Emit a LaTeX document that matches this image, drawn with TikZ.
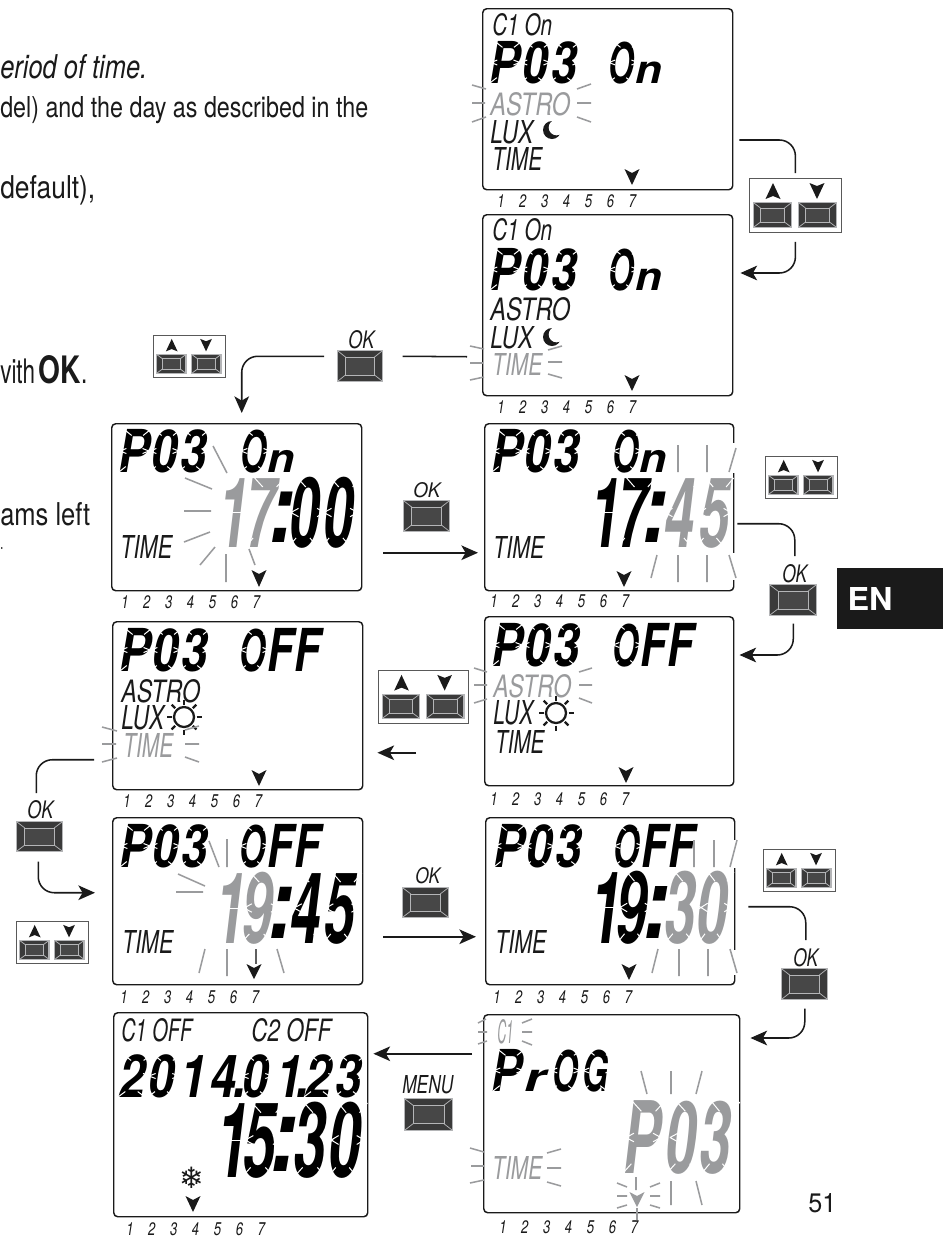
\documentclass[tikz,border=0pt]{standalone}
\usepackage{fontspec}
\usepackage{graphicx}
\usetikzlibrary{calc,arrows.meta}
\setmainfont{TeX Gyre Heros}
\newfontfamily\flakefont{DejaVu Sans}
\definecolor{lcdgrey}{HTML}{9A9B9D}
\definecolor{ink}{HTML}{1A1A1A}
\definecolor{btndark}{HTML}{3A3A3A}
\definecolor{btnmid}{HTML}{474747}
\definecolor{btnedge}{HTML}{B4B5B7}
\tikzset{
  dispbox/.style={draw=ink,line width=1.1pt,rounded corners=3pt,inner sep=0pt,anchor=north west},
  ray/.style={draw=lcdgrey,line width=1.15pt},
  conn/.style={draw=ink,line width=1.15pt},
  connarrow/.style={conn,-{Stealth[length=12.5pt,width=11pt,inset=3.2pt]}},
  cutline/.style={draw=white,line width=.75pt},
  tri/.style={fill=ink},
  kpbox/.style={draw=black!65,line width=.6pt,fill=white,inner sep=0pt,anchor=north west},
  btnbox/.style={fill=btnedge,inner sep=0pt,anchor=north west},
  lbl/.style={inner sep=0pt,anchor=north west},
  lcdword/.style={inner sep=0pt,anchor=base west},
  copytext/.style={inner sep=0pt,anchor=base west,text=ink}
}
\newlength\cu
\newcommand\rs[3]{\pgfmathsetlengthmacro\rsw{(#1)*0.75pt}\pgfmathsetlengthmacro\rsh{(#2)*0.75pt}\resizebox{\rsw}{\rsh}{#3}}
\newcommand\disp[5]{\node[dispbox,minimum width={(#4-#2)*0.75pt},minimum height={(#5-#3)*0.75pt}] (#1) at (#2,#3) {};}
\newcommand\smalllbl[7][ink]{\node[lbl,text=#1] (#2) at (#3,#4) {\rs{#5-#3}{#6-#4}{\itshape #7}};}
\newcommand\weekrow[3]{%
  \foreach \d in {1,...,7}{\pgfmathsetmacro\wx{#2+21.9*(\d-1)-4}\node[lbl,text=ink] (#1\d) at (\wx,#3) {\resizebox{!}{9.6pt}{\scalebox{.72}[1]{\itshape \d}}};}}
\newcommand\biglcd[6]{%
  \pgfmathsetmacro\fsz{#4*0.75/0.71}%
  \pgfmathsetlengthmacro\tmpcu{0.75pt/#5}%
  \node[lcdword] (#1) at (#2,#3) {\setlength\cu{\tmpcu}\scalebox{#5}[1]{\fontsize{\fsz pt}{\fsz pt}\selectfont\bfseries\itshape #6}};}
\newcommand\lc[2]{\makebox[#1\cu][c]{#2}}
\newcommand\lcr[2]{\makebox[#1\cu][r]{#2}}
\newcommand\Oo{\scalebox{.72}[.97]{O}}
\newcommand\nn{\scalebox{.95}[.68]{n}}
\newcommand\rr{\scalebox{1.2}[.68]{r}}
\newcommand\Gg{\scalebox{.72}[.97]{G}}
\newcommand\Ff{\scalebox{.9}[1]{F}}
\newcommand\colonch{\raisebox{.05em}{\scalebox{1.45}[1]{:}}}
\newcommand\lcdgaps[4]{%
  \pgfmathsetmacro\gsl{0.14*#4}\pgfmathsetmacro\gth{0.13*#4}\pgfmathsetmacro\gtw{0.27*#3}%
  \draw[cutline]
    (#1+\gsl,#2) -- ++(\gtw,\gth)
    (#1+\gsl+#3,#2) -- ++(-\gtw,\gth)
    (#1,#2+#4) -- ++(\gtw,-\gth)
    (#1+#3,#2+#4) -- ++(-\gtw,-\gth)
    (#1+\gsl*.5-2,#2+#4*.5) -- ++(\gtw*.95,-.06*#4)
    (#1+\gsl*.5-2,#2+#4*.5) -- ++(\gtw*.95,.06*#4)
    (#1+\gsl*.5+#3+2,#2+#4*.5) -- ++(-\gtw*.95,-.06*#4)
    (#1+\gsl*.5+#3+2,#2+#4*.5) -- ++(-\gtw*.95,.06*#4);}
\newcommand\lcdmid[4]{\draw[cutline] (#1,#2+#4*.5) -- ++(#3,0);}
\newcommand\btn[5]{%
  \node[btnbox,minimum width={(#4)*0.75pt},minimum height={(#5)*0.75pt}] (#1) at (#2,#3) {};
  \pgfmathsetmacro\bx{#2+1.2}\pgfmathsetmacro\by{#3+1.2}\pgfmathsetmacro\bw{#4-2.4}\pgfmathsetmacro\bh{#5-2.4}%
  \fill[btndark] (\bx,\by) rectangle ++(\bw,\bh);
  \draw[btnedge,line width=.55pt] (\bx,\by) -- ++(.17*\bw,.2*\bh) (\bx+\bw,\by) -- ++(-.17*\bw,.2*\bh)
    (\bx,\by+\bh) -- ++(.17*\bw,-.2*\bh) (\bx+\bw,\by+\bh) -- ++(-.17*\bw,-.2*\bh);
  \filldraw[fill=btnmid,draw=btnedge,line width=.55pt] (\bx+.17*\bw,\by+.2*\bh) rectangle (\bx+.83*\bw,\by+.8*\bh);}
\newcommand\keypad[4]{%
  \pgfmathsetmacro\kw{92*#4}\pgfmathsetmacro\kh{54*#4}%
  \node[kpbox,minimum width={\kw*0.75pt},minimum height={\kh*0.75pt}] (#1) at (#2,#3) {};
  \pgfmathsetmacro\kup{#2+24*#4}\pgfmathsetmacro\kdn{#2+68*#4}\pgfmathsetmacro\ktop{#3+5*#4}\pgfmathsetmacro\kbot{#3+21*#4}\pgfmathsetmacro\krad{7.5*#4}%
  \fill[tri] (\kup,\ktop) -- (\kup+\krad,\kbot) -- (\kup,\kbot-3*#4) -- (\kup-\krad,\kbot) -- cycle;
  \fill[tri] (\kdn,\kbot) -- (\kdn+\krad,\ktop) -- (\kdn,\ktop+3*#4) -- (\kdn-\krad,\ktop) -- cycle;
  \pgfmathsetmacro\ka{#2+4*#4}\pgfmathsetmacro\kb{#2+49*#4}\pgfmathsetmacro\kc{#3+24*#4}\pgfmathsetmacro\kd{39*#4}\pgfmathsetmacro\ke{26*#4}%
  \btn{#1a}{\ka}{\kc}{\kd}{\ke}\btn{#1b}{\kb}{\kc}{\kd}{\ke}}
\newcommand\marker[4][ink]{\fill[#1] (#2,#4) -- (#2+7.5,#3) -- (#2,#3+4) -- (#2-7.5,#3) -- cycle;}
\newcommand\moon[2]{\fill[ink] (#1,#2) circle (9); \fill[white] (#1+4.5,#2-2.5) circle (7.8);}
\newcommand\sun[2]{\draw[ink,line width=1.7pt] (#1,#2) circle (10);
  \foreach \a in {0,45,...,315}{\draw[ink,line width=1.7pt] (#1,#2) ++(\a:12.5) -- ++(\a:5);}}
\begin{document}
\begin{tikzpicture}[x=0.75pt,y=-0.75pt]
\useasboundingbox (0,0) rectangle (943,1239);
\fill[white] (0,0) rectangle (943,1239);

% ---------- running text ----------
\node[copytext] (t1) at (0,78) {\rs{147}{24}{\itshape eriod of time.}};
\node[copytext] (t2) at (0,117) {\rs{368}{21}{del) and the day as described in the}};
\node[copytext] (t3) at (0,198) {\rs{95}{23}{default),}};
\node[copytext] (t4) at (0,383) {\rs{87}{28}{vith\,\scalebox{1.25}[1.12]{\textbf{OK}}.}};
\node[copytext] (t5) at (0,525) {\rs{90}{23}{ams left}};
\node[copytext] (t6) at (0,549) {\rs{3}{2}{.}};
% page tab
\fill[ink] (837,568) rectangle (943,629);
\node[inner sep=0pt,anchor=center,text=white] (en) at (870,598.5) {\rs{45}{23}{\bfseries EN}};
\node[copytext] (pg) at (808,1212) {\rs{28}{19}{51}};

% ---------- display A ----------
\disp{dA}{482}{8}{732}{189}
\smalllbl{cA}{492}{13}{552}{35}{C1 On}
\biglcd{pA}{490}{83}{41}{.8}{\lc{30}{P}\lc{30}{0}\lc{29}{3}}
\lcdgaps{490}{42}{25}{41}\lcdgaps{520}{42}{25}{41}\lcdgaps{549}{42}{25}{41}
\biglcd{oA}{606}{83}{41}{.8}{\lc{30}{\Oo}\lc{26}{\nn}}
\lcdgaps{608}{42}{25}{41}
\smalllbl[lcdgrey]{aA}{490}{92}{570}{115}{ASTRO}
\smalllbl{lA}{490}{120}{533}{143}{LUX}
\moon{552}{130}
\smalllbl{tA}{492}{147}{542}{170}{TIME}
\marker{632}{169}{185}
\weekrow{wA}{501}{194}
\draw[ray] (472,85)--(486,89) (472,103)--(485,103) (472,122)--(486,117)
  (577,89)--(591,84) (577,103)--(591,103) (577,117)--(591,122);

% ---------- display B ----------
\disp{dB}{482}{214}{732}{395}
\smalllbl{cB}{492}{218}{552}{240}{C1 On}
\biglcd{pB}{490}{290}{41}{.8}{\lc{30}{P}\lc{30}{0}\lc{29}{3}}
\lcdgaps{490}{249}{25}{41}\lcdgaps{520}{249}{25}{41}\lcdgaps{549}{249}{25}{41}
\biglcd{oB}{606}{290}{41}{.8}{\lc{30}{\Oo}\lc{26}{\nn}}
\lcdgaps{608}{249}{25}{41}
\smalllbl{aB}{490}{297}{570}{320}{ASTRO}
\smalllbl{lB}{490}{326}{533}{348}{LUX}
\moon{552}{337}
\smalllbl[lcdgrey]{tB}{492}{353}{542}{375}{TIME}
\marker{632}{375}{391}
\weekrow{wB}{501}{400}
\draw[ray] (470,346)--(484,349) (470,363)--(483,363) (470,380)--(484,377)
  (548,350)--(562,346) (548,362)--(562,362) (548,374)--(562,378);

% ---------- display C ----------
\disp{dC}{111}{423}{361}{590}
\biglcd{pC}{119}{472}{42}{.8}{\lc{30}{P}\lc{30}{0}\lc{29}{3}}
\lcdgaps{119}{430}{25}{42}\lcdgaps{149}{430}{25}{42}\lcdgaps{178}{430}{25}{42}
\biglcd{oC}{238}{472}{42}{.8}{\lc{30}{\Oo}\lc{26}{\nn}}
\lcdgaps{240}{430}{25}{42}
\biglcd{tmC}{221}{547}{69}{.56}{\textcolor{lcdgrey}{\lc{24}{1}\lc{30}{7}}\lc{13}{\colonch}\lc{33}{0}\lc{35}{0}}
\lcdmid{221}{478}{24}{69}
\lcdgaps{245}{478}{30}{69}\lcdgaps{288}{478}{30}{69}\lcdgaps{321}{478}{30}{69}
\smalllbl{tC}{120}{535}{172}{558}{TIME}
\marker{259}{570}{587}
\weekrow{wC}{125}{595}
\draw[ray] (213,446)--(227,473) (185,478)--(212,489) (184,511)--(211,511)
  (184,542)--(210,532) (200,565)--(215,547) (226,554)--(226,582) (249,549)--(255,565);

% ---------- display D ----------
\disp{dD}{484}{423}{733}{590}
\biglcd{pD}{492}{472}{42}{.8}{\lc{30}{P}\lc{30}{0}\lc{29}{3}}
\lcdgaps{492}{430}{25}{42}\lcdgaps{522}{430}{25}{42}\lcdgaps{551}{430}{25}{42}
\biglcd{oD}{610}{472}{42}{.8}{\lc{30}{\Oo}\lc{26}{\nn}}
\lcdgaps{612}{430}{25}{42}
\biglcd{tmD}{594}{547}{69}{.56}{\lc{22}{1}\lc{32}{7}\lc{13}{\colonch}\textcolor{lcdgrey}{\lc{36}{4}\lc{34}{5}}}
\lcdmid{594}{478}{22}{69}
\lcdgaps{617}{478}{29}{69}\lcdgaps{662}{478}{30}{69}\lcdgaps{696}{478}{28}{69}
\smalllbl{tD}{493}{536}{544}{558}{TIME}
\marker{624}{571}{587}
\weekrow{wD}{494}{594}
\draw[white,line width=3pt] (733,443)--(733,473) (733,553)--(733,580);
\draw[ray] (678,445)--(678,472) (707,445)--(707,472) (736,448)--(729,472)
  (657,555)--(651,578) (678,555)--(678,582) (707,555)--(707,582) (729,555)--(736,578);

% ---------- display E ----------
\disp{dE}{484}{616}{733}{785}
\biglcd{pE}{492}{666}{42}{.8}{\lc{30}{P}\lc{30}{0}\lc{29}{3}}
\lcdgaps{492}{624}{25}{42}\lcdgaps{522}{624}{25}{42}\lcdgaps{551}{624}{25}{42}
\biglcd{oE}{610}{666}{42}{.8}{\lc{30}{\Oo}\lc{27}{\Ff}\lc{27}{\Ff}}
\lcdgaps{612}{624}{25}{42}
\smalllbl[lcdgrey]{aE}{493}{674}{571}{697}{ASTRO}
\smalllbl{lE}{493}{700}{533}{724}{LUX}
\sun{556}{713}
\smalllbl{tE}{495}{730}{544}{753}{TIME}
\marker{626}{767}{783}
\weekrow{wE}{494}{792}
\draw[ray] (474,668)--(487,672) (474,685)--(487,685) (474,703)--(487,699)
  (579,672)--(592,668) (579,685)--(592,685) (579,698)--(592,703);

% ---------- display F ----------
\disp{dF}{112}{621}{362}{789}
\biglcd{pF}{120}{671}{42}{.8}{\lc{30}{P}\lc{30}{0}\lc{29}{3}}
\lcdgaps{120}{629}{25}{42}\lcdgaps{150}{629}{25}{42}\lcdgaps{179}{629}{25}{42}
\biglcd{oF}{237}{671}{42}{.8}{\lc{30}{\Oo}\lc{27}{\Ff}\lc{27}{\Ff}}
\lcdgaps{239}{629}{25}{42}
\smalllbl{aF}{121}{679}{200}{702}{ASTRO}
\smalllbl{lF}{121}{705}{164}{729}{LUX}
\sun{184}{717}
\smalllbl[lcdgrey]{tF}{123}{733}{173}{757}{TIME}
\marker{259}{770}{786}
\weekrow{wF}{127}{794}
\draw[ray] (102,727)--(117,731) (102,744)--(116,744) (102,762)--(117,758)
  (185,730)--(199,726) (185,744)--(199,744) (185,757)--(199,762);

% ---------- display G ----------
\disp{dG}{112}{817}{362}{984}
\biglcd{pG}{120}{867}{42}{.8}{\lc{30}{P}\lc{30}{0}\lc{29}{3}}
\lcdgaps{120}{825}{25}{42}\lcdgaps{150}{825}{25}{42}\lcdgaps{179}{825}{25}{42}
\biglcd{oG}{237}{867}{42}{.8}{\lc{30}{\Oo}\lc{27}{\Ff}\lc{27}{\Ff}}
\lcdgaps{239}{825}{25}{42}
\biglcd{tmG}{221}{943}{70}{.56}{\textcolor{lcdgrey}{\lc{20}{1}\lc{33}{9}}\lc{14}{\colonch}\lc{36}{4}\lc{32}{5}}
\lcdmid{221}{873}{20}{70}
\lcdgaps{241}{873}{31}{70}\lcdgaps{291}{873}{31}{70}\lcdgaps{323}{873}{29}{70}
\smalllbl{tG}{122}{930}{173}{953}{TIME}
\marker{254}{964}{979}
\weekrow{wG}{124}{990}
\draw[ray] (209,841)--(219,867) (227,839)--(227,867) (178,874)--(205,886) (176,892)--(203,892)
  (205,949)--(199,973) (227,949)--(227,976) (277,949)--(284,973);
\draw[draw=ink!70,line width=.8pt] (256,949)--(256,964);

% ---------- display H ----------
\disp{dH}{485}{817}{734}{984}
\biglcd{pH}{494}{867}{42}{.8}{\lc{30}{P}\lc{30}{0}\lc{29}{3}}
\lcdgaps{494}{825}{25}{42}\lcdgaps{524}{825}{25}{42}\lcdgaps{553}{825}{25}{42}
\biglcd{oH}{611}{867}{42}{.8}{\lc{30}{\Oo}\lc{27}{\Ff}\lc{27}{\Ff}}
\lcdgaps{613}{825}{25}{42}
\biglcd{tmH}{596}{943}{71}{.56}{\lc{20}{1}\lc{32}{9}\lc{15}{\colonch}\textcolor{lcdgrey}{\lc{33}{3}\lc{32}{0}}}
\lcdmid{596}{872}{20}{71}
\lcdgaps{617}{872}{28}{71}\lcdgaps{665}{872}{29}{71}\lcdgaps{698}{872}{26}{71}
\smalllbl{tH}{495}{930}{546}{953}{TIME}
\marker{629}{964}{980}
\weekrow{wH}{497}{990}
\draw[white,line width=3pt] (734,840)--(734,868) (734,950)--(734,975);
\draw[ray] (694,840)--(694,867) (714,840)--(714,867) (737,840)--(730,867)
  (658,949)--(652,973) (679,949)--(679,976) (708,949)--(708,976) (730,949)--(737,973);

% ---------- display I ----------
\disp{dI}{113}{1012}{367}{1216}
\smalllbl{c1I}{121}{1018}{192}{1041}{C1 OFF}
\smalllbl{c2I}{251}{1018}{331}{1041}{C2 OFF}
\biglcd{dateI}{117}{1097}{42}{.8}{\lc{30}{2}\lc{29}{0}\lcr{31}{1}\lc{33}{4}\makebox[0pt]{.}\lc{31}{0}\lcr{32}{1}\makebox[0pt]{.}\lc{31}{2}\lc{29}{3}}
\lcdgaps{118}{1055}{27}{42}\lcdgaps{148}{1055}{26}{42}\lcdgaps{241}{1055}{26}{42}\lcdgaps{304}{1055}{26}{42}\lcdgaps{334}{1055}{26}{42}
\biglcd{tmI}{222}{1177}{74}{.56}{\lc{20}{1}\lc{34}{5}\lc{15}{\colonch}\lc{36}{3}\lc{34}{0}}
\lcdmid{222}{1103}{20}{74}
\lcdgaps{242}{1103}{32}{74}\lcdgaps{294}{1103}{32}{74}\lcdgaps{328}{1103}{29}{74}
\node[inner sep=0pt,text=ink] (flake) at (192,1178) {\flakefont\fontsize{22pt}{22pt}\selectfont ❄};
\marker{193}{1196}{1212}
\weekrow{wI}{130}{1222}

% ---------- display J ----------
\disp{dJ}{483}{1014}{739}{1212}
\smalllbl[lcdgrey]{cJ}{497}{1019}{513}{1043}{C1}
\biglcd{pJ}{492}{1091}{41}{.8}{\lc{30}{P}\lc{27}{\rr}\lc{32}{\Oo}\lc{29}{\Gg}}
\lcdgaps{493}{1050}{25}{41}\lcdgaps{550}{1050}{25}{41}\lcdgaps{582}{1050}{25}{41}
\biglcd{gJ}{622}{1173}{71}{.56}{\textcolor{lcdgrey}{\lc{40}{P}\lc{37}{0}\lc{32}{3}}}
\lcdgaps{623}{1102}{31}{71}\lcdgaps{667}{1102}{31}{71}\lcdgaps{702}{1102}{28}{71}
\smalllbl[lcdgrey]{tJ}{492}{1156}{542}{1179}{TIME}
\weekrow{wJ}{503}{1220}
\marker[lcdgrey]{637}{1192}{1207}
\draw[ray] (478,1023)--(486,1019) (478,1032)--(487,1032) (478,1044)--(487,1041)
  (522,1023)--(532,1019) (522,1032)--(532,1032) (522,1041)--(532,1045)
  (470,1148)--(484,1152) (471,1166)--(484,1166) (470,1183)--(484,1180)
  (547,1153)--(561,1149) (547,1168)--(561,1168) (547,1182)--(561,1186)
  (641,1071)--(647,1094) (671,1071)--(671,1094) (702,1071)--(696,1094)
  (671,1181)--(671,1205) (696,1181)--(702,1205)
  (636,1177)--(636,1190) (617,1183)--(627,1187) (617,1196)--(627,1196) (617,1208)--(627,1205)
  (650,1187)--(660,1183) (650,1196)--(660,1196) (650,1205)--(660,1208) (637,1208)--(637,1220);

% ---------- buttons ----------
\keypad{kA}{749}{178}{1}
\keypad{kB}{153}{335}{.78}
\keypad{kC}{765}{456}{.78}
\keypad{kD}{378}{670}{.98}
\keypad{kE}{16}{921}{.78}
\keypad{kF}{763}{849}{.78}
\btn{okA}{337}{350}{46}{32}
\smalllbl{okAl}{348}{330}{374}{348}{OK}
\btn{okB}{403}{500}{47}{32}
\smalllbl{okBl}{413}{482}{440}{497}{OK}
\btn{okC}{769}{584}{48}{32}
\smalllbl{okCl}{782}{564}{807}{582}{OK}
\btn{okD}{16}{821}{47}{31}
\smalllbl{okDl}{27}{800}{53}{818}{OK}
\btn{okE}{402}{887}{47}{31}
\smalllbl{okEl}{415}{867}{440}{883}{OK}
\btn{okF}{781}{968}{47}{32}
\smalllbl{okFl}{793}{948}{818}{966}{OK}
\btn{mn}{404}{1098}{49}{33}
\smalllbl{mnl}{402}{1075}{453}{1093}{MENU}

% ---------- connectors ----------
\draw[conn,rounded corners=12pt] ($(dA.north east)+(6,132)$) -| ($(kA.north)+(0,-5)$);
\draw[connarrow,rounded corners=12pt] ($(kA.south)+(0,9)$) |- ($(dB.north east)+(7,59)$);
\draw[conn] ($(dB.west)+(-15,51.5)$) -- ($(okA.east)+(19,-10)$);
\draw[connarrow,rounded corners=12pt] ($(okA.west)+(-13,-10)$) -| ($(dC.north)+(5,-10)$);
\draw[connarrow] ($(dC.east)+(21,45.5)$) -- ($(dD.west)+(-6,45.5)$);
\draw[conn,rounded corners=12pt] ($(dD.east)+(3,16.5)$) -| ($(okCl.north)+(0,-8)$);
\draw[connarrow,rounded corners=12pt] ($(okC.south)+(0,7)$) |- ($(dE.north east)+(5,39)$);
\draw[connarrow] ($(dE.west)+(-68,51.5)$) -- ($(dF.east)+(14,47)$);
\draw[conn,rounded corners=12pt] ($(dF.west)+(-18,54)$) -| ($(okDl.north)+(-4,-7)$);
\draw[connarrow,rounded corners=12pt] ($(okD.south)+(-1.5,9)$) |- ($(dG.west)+(-17,-8.5)$);
\draw[connarrow] ($(dG.east)+(20,35.5)$) -- ($(dH.west)+(-9,35.5)$);
\draw[conn,rounded corners=12pt] ($(dH.east)+(13,5.5)$) -| ($(okFl.north)+(0,-8)$);
\draw[connarrow,rounded corners=12pt] ($(okF.south)+(0,8)$) |- ($(dJ.north east)+(10,24)$);
\draw[connarrow] ($(dJ.west)+(-11,-60)$) -- ($(dI.east)+(5,-61)$);
\end{tikzpicture}
\end{document}
